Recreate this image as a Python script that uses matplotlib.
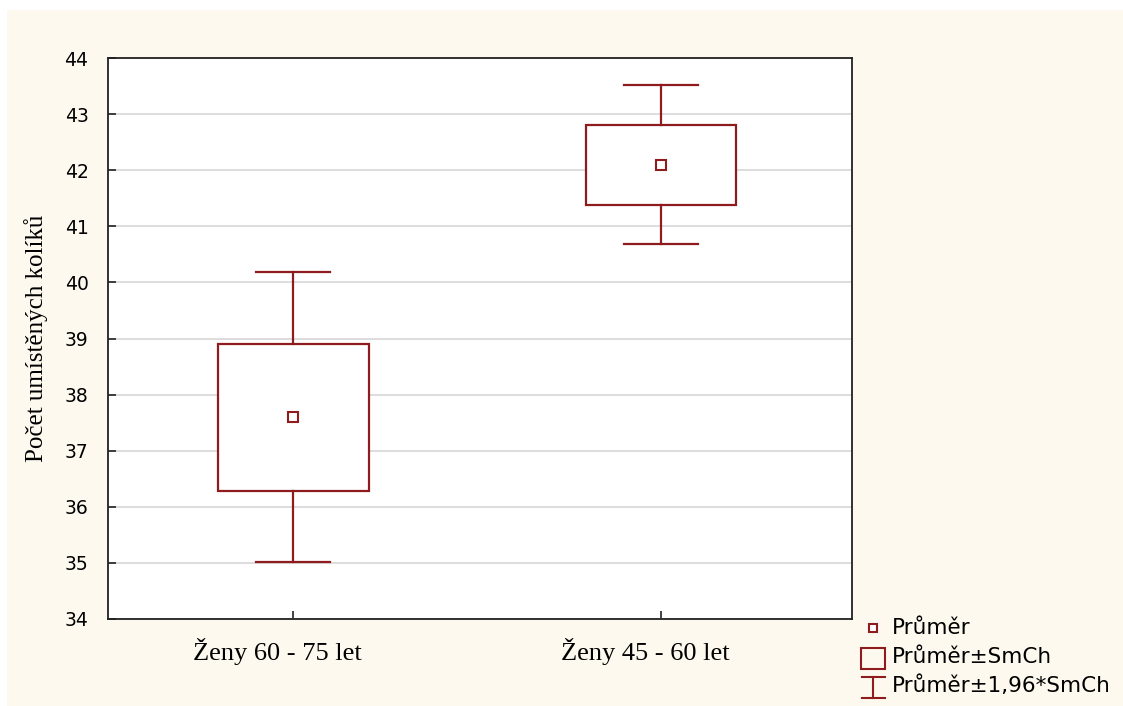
import matplotlib.pyplot as plt
import matplotlib.transforms as mtransforms
from matplotlib.patches import Rectangle
from matplotlib.lines import Line2D

# values
groups = ['Ženy 60 - 75 let', 'Ženy 45 - 60 let']
means = [37.60, 42.09]
se_low = [36.28, 41.38]
se_high = [38.90, 42.81]
ci_low = [35.02, 40.68]
ci_high = [40.19, 43.52]
y_ticks = [34, 35, 36, 37, 38, 39, 40, 41, 42, 43, 44]

red = '#8e1b1e'
cream = '#fdf9ef'

fig = plt.figure(figsize=(11.23, 7.06), dpi=100)
fig.patch.set_facecolor('white')
fig.patches.append(Rectangle((7 / 1123, 0), 1, 1 - 10 / 706, transform=fig.transFigure,
                             facecolor=cream, edgecolor='none', zorder=-10))

ax = fig.add_axes([108 / 1123, 1 - 619 / 706, 744 / 1123, 561 / 706])
ax.set_facecolor('white')

box_w = 0.41
cap_w = 0.2
for i in range(len(groups)):
    ax.add_patch(Rectangle((i - box_w / 2, se_low[i]), box_w, se_high[i] - se_low[i],
                           facecolor='white', edgecolor=red, lw=1.6, zorder=3))
    ax.plot([i, i], [se_high[i], ci_high[i]], color=red, lw=1.6, zorder=3)
    ax.plot([i, i], [ci_low[i], se_low[i]], color=red, lw=1.6, zorder=3)
    ax.plot([i - cap_w / 2, i + cap_w / 2], [ci_high[i], ci_high[i]], color=red, lw=1.6, zorder=3)
    ax.plot([i - cap_w / 2, i + cap_w / 2], [ci_low[i], ci_low[i]], color=red, lw=1.6, zorder=3)
ax.plot(range(len(groups)), means, ls='none', marker='s', ms=7, mfc='white',
        mec=red, mew=1.5, zorder=4)

ax.set_xlim(-0.503, 1.519)
ax.set_ylim(34, 44)
ax.set_yticks(y_ticks)
ax.set_xticks(range(len(groups)))
ax.set_xticklabels(groups, fontfamily='Liberation Serif', fontsize=19)
ax.set_yticklabels([str(t) for t in y_ticks], fontfamily='DejaVu Sans', fontsize=13.5)
ax.tick_params(axis='both', direction='in', length=6, width=1.2, color='#222222')
ax.tick_params(axis='y', pad=14)
ax.tick_params(axis='x', pad=14)
ax.yaxis.grid(True, color='#dadada', lw=1.3)
ax.set_axisbelow(True)
for s in ax.spines.values():
    s.set_color('#222222')
    s.set_linewidth(1.3)

# category labels sit a bit left of their ticks in the original
shift = mtransforms.ScaledTranslation(-16 / 100, 0, fig.dpi_scale_trans)
for lab in ax.get_xticklabels():
    lab.set_transform(lab.get_transform() + shift)

ax.set_ylabel('Počet umístěných kolíků', fontfamily='Liberation Serif', fontsize=18, labelpad=12)

# legend drawn by hand in figure pixels
def fx(px):
    return px / 1123

def fy(py):
    return 1 - py / 706

fig.add_artist(Line2D([fx(873)], [fy(628)], marker='s', ms=6, mfc='white', mec=red, mew=1.5,
                      transform=fig.transFigure))
fig.add_artist(Rectangle((fx(861), fy(669)), 24 / 1123, 21 / 706, transform=fig.transFigure,
                         facecolor='none', edgecolor=red, lw=1.5))
fig.add_artist(Line2D([fx(873), fx(873)], [fy(677), fy(698)], color=red, lw=1.5,
                      transform=fig.transFigure))
fig.add_artist(Line2D([fx(862), fx(885)], [fy(677), fy(677)], color=red, lw=1.5,
                      transform=fig.transFigure))
fig.add_artist(Line2D([fx(862), fx(885)], [fy(698), fy(698)], color=red, lw=1.5,
                      transform=fig.transFigure))
for label, py in [('Průměr', 628), ('Průměr±SmCh', 657), ('Průměr±1,96*SmCh', 686)]:
    fig.text(fx(892), fy(py), label, fontsize=15.5, fontfamily='DejaVu Sans', va='center', ha='left')

fig.savefig('out.png', dpi=100, facecolor=fig.get_facecolor())
